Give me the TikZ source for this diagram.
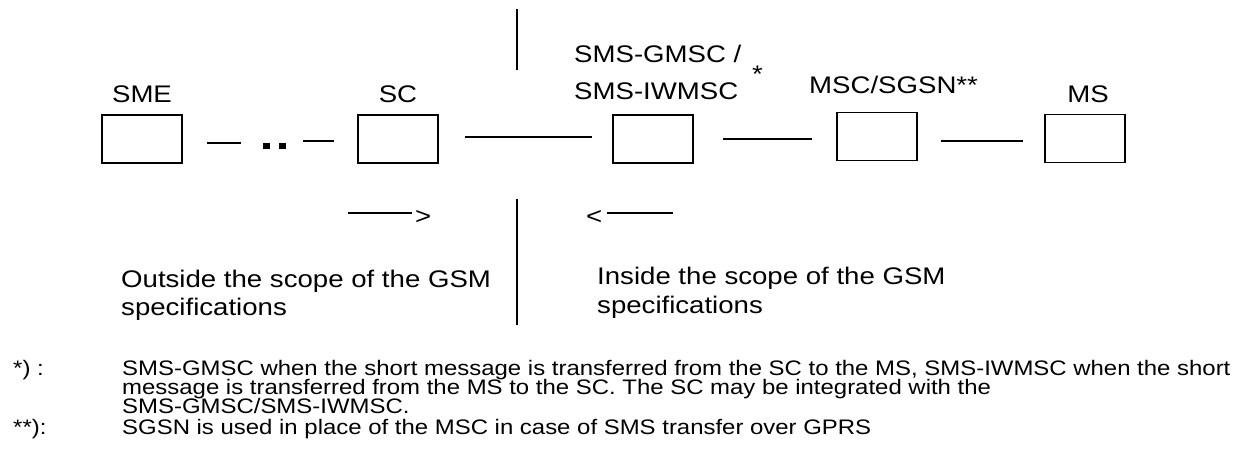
\documentclass[tikz,border=0pt]{standalone}
\usepackage{fontspec}
\setmainfont{Liberation Sans}[FakeStretch=1.15]
\newfontfamily\fnfont{Liberation Sans}[FakeStretch=1.14]
\begin{document}
\begin{tikzpicture}[x=1pt,y=-1pt,
  box/.style={draw, line width=1.6pt, minimum width=80pt, minimum height=48pt, inner sep=0pt},
  lbl/.style={inner sep=0pt, font=\fontsize{24}{28}\selectfont},
  fn/.style={inner sep=0pt, anchor=base west, font=\fnfont\fontsize{21}{24}\selectfont},
  ln/.style={line width=1.6pt},
  dot/.style={fill, minimum width=7pt, minimum height=6pt, inner sep=0pt}]
\useasboundingbox (0,0) rectangle (1252,463);
\fill[white] (0,0) rectangle (1252,463);
% boxes
\node[box] (sme) at (142,139) {};
\node[box] (sc) at (398,139) {};
\node[box] (gmsc) at (653,139) {};
\node[box] (msc) at (877,136.5) {};
\node[box] (ms) at (1085,138.5) {};
% labels
\node[lbl, anchor=base] (tsme) at (142,102) {SME};
\node[lbl, anchor=base] (tsc) at (398,102) {SC};
\node[lbl, anchor=base west] (tg1) at (574,62) {SMS-GMSC /};
\node[lbl, anchor=base west] (tg2) at (574,99) {SMS-IWMSC};
\node[lbl, anchor=base west] (tast) at (752,82) {*};
\node[lbl, anchor=base west] (tmsc) at (809,93) {MSC/SGSN**};
\node[lbl, anchor=base] (tms) at (1088,102) {MS};
% connectors between boxes
\coordinate (d1a) at (207,143); \coordinate (d1b) at (241,143);
\coordinate (d2a) at (303,141); \coordinate (d2b) at (334,141);
\node[dot] (p1) at (266.5,146) {};
\node[dot] (p2) at (282.5,146) {};
\draw[ln] (d1a) -- (d1b);
\draw[ln] (d2a) -- (d2b);
\coordinate (l1a) at (465,137); \coordinate (l1b) at (592,137);
\coordinate (l2a) at (723,139); \coordinate (l2b) at (812,139);
\coordinate (l3a) at (941,141); \coordinate (l3b) at (1023,141);
\draw[ln] (l1a) -- (l1b);
\draw[ln] (l2a) -- (l2b);
\draw[ln] (l3a) -- (l3b);
% scope boundary
\coordinate (v1a) at (517,9); \coordinate (v1b) at (517,70);
\coordinate (v2a) at (517,199); \coordinate (v2b) at (517,325);
\draw[ln] (v1a) -- (v1b);
\draw[ln] (v2a) -- (v2b);
% direction marks
\coordinate (ra) at (348,213); \coordinate (rb) at (412,213);
\draw[line width=1.3pt] (ra) -- (rb);
\node[lbl, anchor=base west] (gt) at (415,224) {>};
\coordinate (la) at (607,213); \coordinate (lb) at (673,213);
\draw[line width=1.3pt] (la) -- (lb);
\node[lbl, anchor=base west] (lt) at (586,224) {<};
% scope texts
\node[lbl, anchor=base west] (o1) at (121,287) {Outside the scope of the GSM};
\node[lbl, anchor=base west] (o2) at (121,315) {specifications};
\node[lbl, anchor=base west] (i1) at (597,284) {Inside the scope of the GSM};
\node[lbl, anchor=base west] (i2) at (597,313) {specifications};
% footnotes
\node[fn] (f1m) at (13,375) {*) :};
\node[fn] (f1) at (122,375) {SMS-GMSC when the short message is transferred from the SC to the MS, SMS-IWMSC when the short};
\node[fn] (f2) at (122,394) {message is transferred from the MS to the SC. The SC may be integrated with the};
\node[fn] (f3) at (122,413) {SMS-GMSC/SMS-IWMSC.};
\node[fn] (f4m) at (13,434) {**):};
\node[fn] (f4) at (122,434) {SGSN is used in place of the MSC in case of SMS transfer over GPRS};
\end{tikzpicture}
\end{document}
